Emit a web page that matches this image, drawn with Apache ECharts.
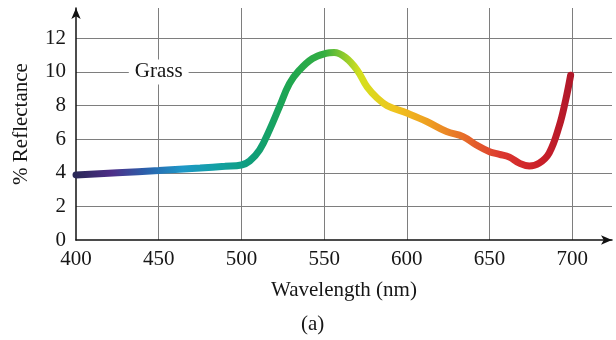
<!DOCTYPE html>
<html>
<head>
<meta charset="utf-8">
<script src="https://cdn.jsdelivr.net/npm/echarts@6/dist/echarts.min.js"></script>
<style>
  html, body { margin: 0; padding: 0; background: #fff; }
  #main { width: 616px; height: 340px; }
</style>
</head>
<body>
<div id="main"></div>
<script>
// 反射率曲线数据 (波长 nm)
var wavelengths = [400, 425, 450, 475, 490, 500, 505, 511, 517, 523, 529, 535, 543, 551, 556, 563, 570, 576, 582, 588, 600, 612, 624, 634, 642, 650, 656, 662, 668, 674, 680, 686, 692, 696, 699];
var reflectance = [3.87, 4.0, 4.13, 4.28, 4.38, 4.46, 4.7, 5.36, 6.55, 7.93, 9.3, 10.1, 10.8, 11.1, 11.15, 10.85, 10.1, 9.1, 8.45, 8.0, 7.55, 7.05, 6.45, 6.15, 5.65, 5.25, 5.1, 4.93, 4.57, 4.4, 4.57, 5.17, 6.75, 8.33, 9.8];
var xTicks = [400, 450, 500, 550, 600, 650, 700];
var yTicks = [0, 2, 4, 6, 8, 10, 12];
var curveLabel = { name: 'Grass', x: 450, y: 10 };

var serif = 'Liberation Serif';
var textColor = '#161616';
var fs = 21;

var chart = echarts.init(document.getElementById('main'));

var series_data = [];
for (var i = 0; i < wavelengths.length; i++) {
  series_data.push([wavelengths[i], reflectance[i]]);
}

var option = {
  animation: false,
  backgroundColor: '#fff',
  grid: { left: 76, right: 4, top: 8, bottom: 100 },
  visualMap: {
    show: false,
    type: 'continuous',
    seriesIndex: 0,
    dimension: 0,
    min: 400,
    max: 700,
    inRange: {
      color: ['#2a2858', '#4e2e88', '#2a62ac', '#1e98c8', '#12a0a2', '#0f9e78', '#1fa650', '#34ae42', '#d4e01e', '#f0c41e', '#ee9c22', '#e66a2a', '#dc3830', '#cc2028', '#b0182a']
    }
  },
  xAxis: {
    type: 'value',
    min: 400,
    max: 724,
    interval: 50,
    name: 'Wavelength (nm)',
    nameLocation: 'middle',
    nameGap: 40,
    nameTextStyle: { fontFamily: serif, fontSize: fs, color: textColor },
    axisLine: {
      show: true,
      lineStyle: { color: '#111', width: 1.5 },
      symbol: ['none', 'arrow'],
      symbolSize: [7, 11]
    },
    axisTick: { show: false },
    axisLabel: {
      fontFamily: serif, fontSize: fs, color: textColor, margin: 9,
      showMaxLabel: false,
      formatter: function (v) { return xTicks.indexOf(v) >= 0 ? String(v) : ''; }
    },
    splitLine: {
      show: true,
      showMinLine: false,
      showMaxLine: false,
      lineStyle: { color: '#7e7e7e', width: 1 }
    }
  },
  yAxis: {
    type: 'value',
    min: 0,
    max: 13.8,
    interval: 2,
    name: '% Reflectance',
    nameLocation: 'middle',
    nameGap: 44,
    nameTextStyle: { fontFamily: serif, fontSize: fs, color: textColor },
    axisLine: {
      show: true,
      lineStyle: { color: '#111', width: 1.5 },
      symbol: ['none', 'arrow'],
      symbolSize: [7, 11]
    },
    axisTick: { show: false },
    axisLabel: {
      fontFamily: serif, fontSize: fs, color: textColor, margin: 10,
      showMaxLabel: false,
      formatter: function (v) { return yTicks.indexOf(v) >= 0 ? String(v) : ''; }
    },
    splitLine: {
      show: true,
      showMinLine: false,
      showMaxLine: false,
      lineStyle: { color: '#7e7e7e', width: 1 }
    }
  },
  series: [
    {
      type: 'line',
      data: series_data,
      smooth: 0.4,
      showSymbol: false,
      lineStyle: { width: 7, cap: 'round' },
      z: 3
    }
  ]
};

chart.setOption(option);

// 曲线标注 "Grass"，位置由坐标轴换算
var p = chart.convertToPixel({ gridIndex: 0 }, [curveLabel.x, curveLabel.y]);
chart.setOption({
  graphic: [
    {
      type: 'text',
      x: p[0],
      y: p[1],
      z: 10,
      style: {
        text: curveLabel.name,
        font: fs + 'px "Liberation Serif"',
        fill: textColor,
        align: 'center',
        verticalAlign: 'middle',
        backgroundColor: '#fff',
        padding: [2, 6]
      }
    },
    {
      type: 'text',
      left: 301,
      top: 314,
      style: { text: '(a)', font: fs + 'px "Liberation Serif"', fill: textColor }
    }
  ]
});
</script>
</body>
</html>
